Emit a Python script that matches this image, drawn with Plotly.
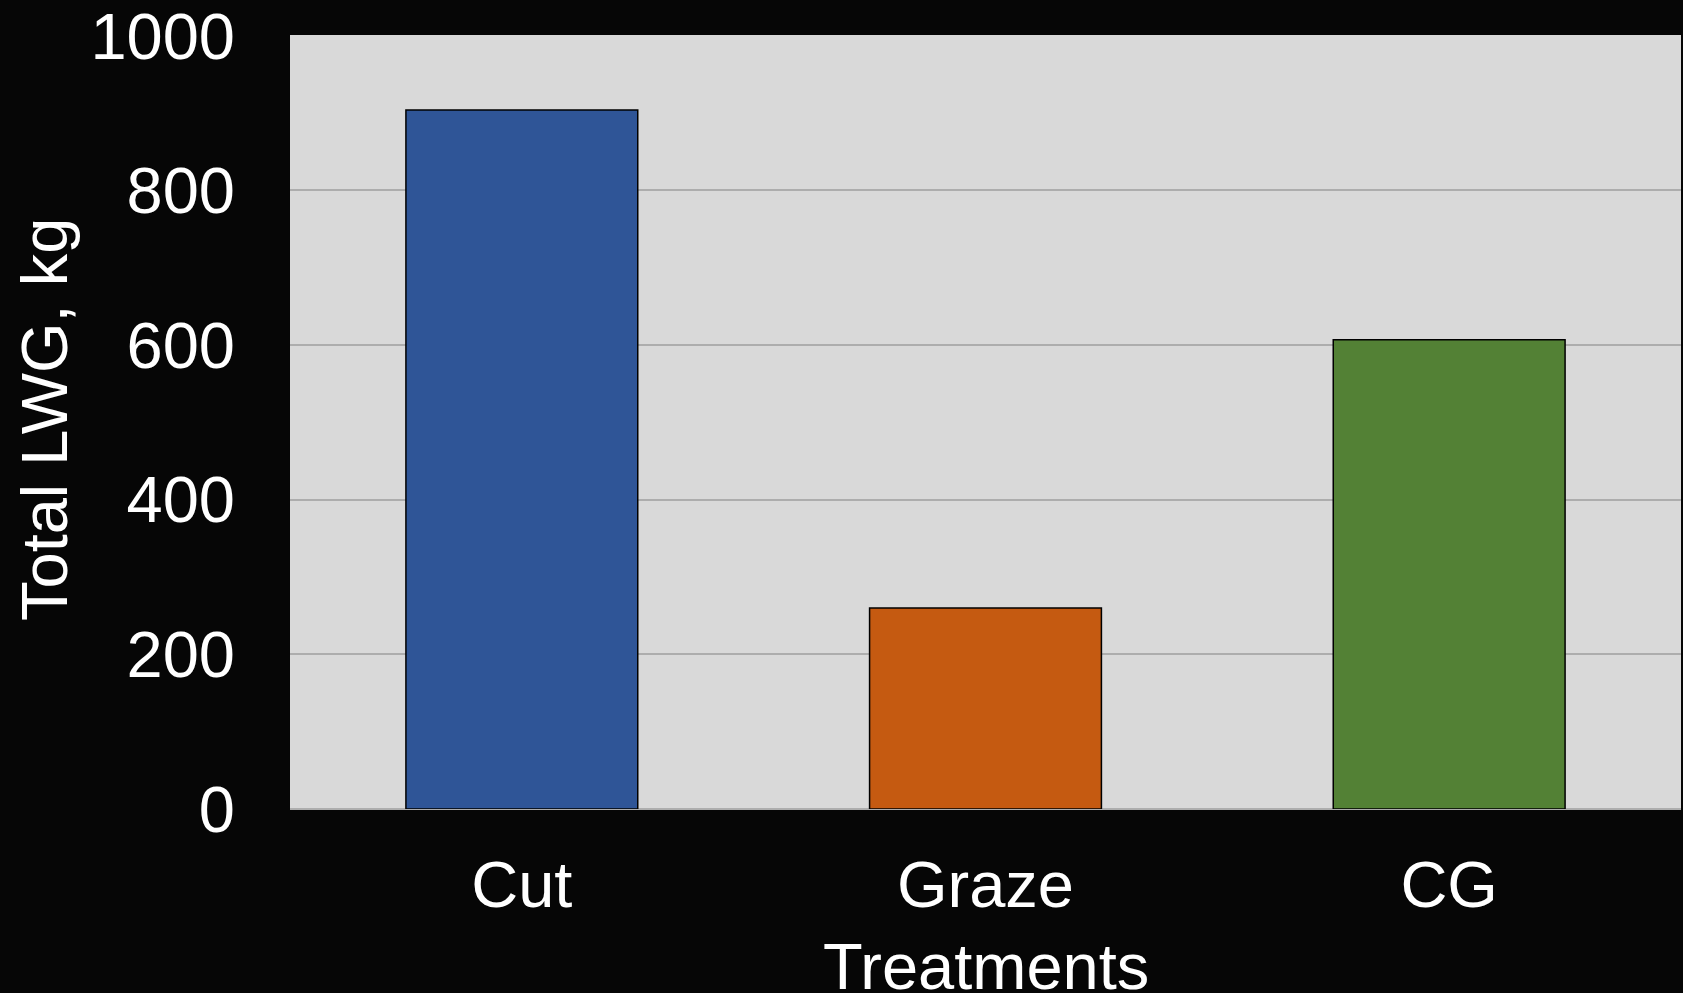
import plotly.graph_objects as go

# Total live-weight gain by treatment
treatments = ["Cut", "Graze", "CG"]
total_lwg = [904, 260, 607]
bar_colors = ["#2F5597", "#C55A11", "#538135"]

y_ticks = [0, 200, 400, 600, 800, 1000]

W, H = 1683, 993
M_L, M_R, M_T, M_B = 290, 2, 35, 184
FONT = "Liberation Sans, Arial, sans-serif"

fig = go.Figure(
    go.Bar(
        x=treatments,
        y=total_lwg,
        marker=dict(color=bar_colors, line=dict(color="#000000", width=1.5)),
        width=0.5,
        hoverinfo="x+y",
    )
)

plot_w = W - M_L - M_R
plot_h = H - M_T - M_B

fig.update_layout(
    width=W,
    height=H,
    margin=dict(l=M_L, r=M_R, t=M_T, b=M_B, autoexpand=False),
    paper_bgcolor="#060606",
    plot_bgcolor="#D9D9D9",
    font=dict(family=FONT, color="#FFFFFF", size=65),
    showlegend=False,
    xaxis=dict(
        showgrid=False,
        showline=False,
        ticks="",
        tickfont=dict(size=65, color="#FFFFFF"),
        ticklabelstandoff=32,
        automargin=False,
    ),
    yaxis=dict(
        range=[0, 1001],
        tickvals=y_ticks,
        ticktext=[str(v) for v in y_ticks],
        showgrid=True,
        gridcolor="#ADADAD",
        gridwidth=1.5,
        zeroline=True,
        zerolinecolor="#ADADAD",
        zerolinewidth=1.5,
        showline=False,
        ticks="",
        tickfont=dict(size=65, color="#FFFFFF"),
        ticklabelstandoff=54,
        ticklabeloverflow="allow",
        automargin=False,
    ),
    annotations=[
        dict(
            text="Total LWG, kg",
            textangle=-90,
            xref="paper",
            yref="paper",
            x=(44 - M_L) / plot_w,
            y=(H - M_B - 420) / plot_h,
            xanchor="center",
            yanchor="middle",
            showarrow=False,
            font=dict(size=65, color="#FFFFFF", family=FONT),
        ),
        dict(
            text="Treatments",
            xref="paper",
            yref="paper",
            x=0.5,
            y=-(966 - (H - M_B)) / plot_h,
            xanchor="center",
            yanchor="middle",
            showarrow=False,
            font=dict(size=65, color="#FFFFFF", family=FONT),
        ),
    ],
)

fig.write_html("out.html")
